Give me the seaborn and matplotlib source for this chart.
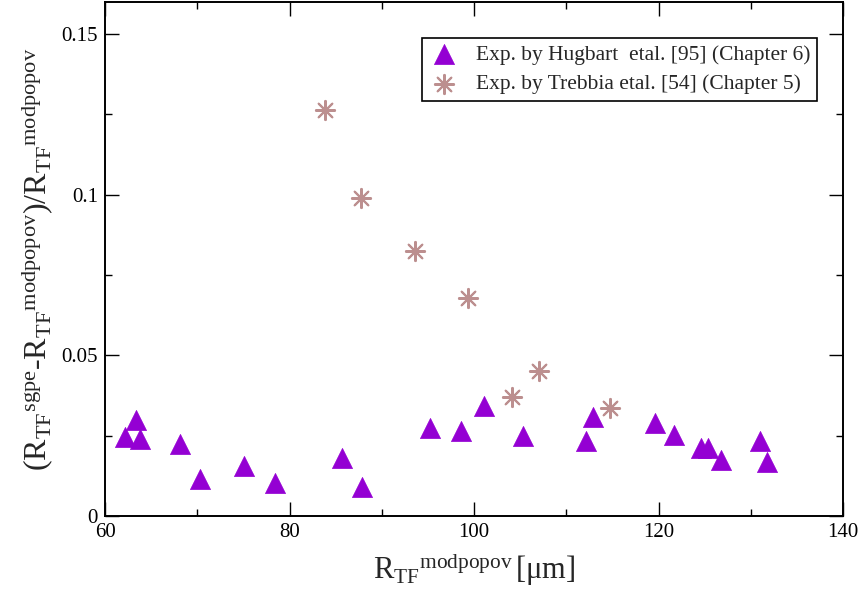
import matplotlib
matplotlib.use("Agg")
import matplotlib.pyplot as plt
import seaborn as sns
import pandas as pd
from matplotlib.ticker import MultipleLocator

# Hugbart et al. data (triangles)
hug_x = [62.2, 63.4, 63.8, 68.15, 70.3, 75.1, 78.4, 85.7, 87.9, 95.2, 98.6,
         101.1, 105.3, 112.1, 112.9, 119.6, 121.7, 124.6, 125.4, 126.8, 131.0, 131.8]
hug_y = [0.0246, 0.0299, 0.0240, 0.0225, 0.0114, 0.0157, 0.0102, 0.0180, 0.0091, 0.0275, 0.0265,
         0.0343, 0.0250, 0.0234, 0.0308, 0.0290, 0.0251, 0.0213, 0.0213, 0.0174, 0.0234, 0.0169]

# Trebbia et al. data (asterisks)
tre_x = [83.9, 87.8, 93.6, 99.3, 104.1, 107.0, 114.7]
tre_y = [0.1264, 0.0989, 0.0825, 0.0680, 0.0371, 0.0451, 0.0337]

x_ticks = [60, 80, 100, 120, 140]
x_ticklabels = ["60", "80", "100", "120", "140"]
y_ticks = [0, 0.05, 0.1, 0.15]
y_ticklabels = ["0", "0.05", "0.1", "0.15"]

lab_hug = "Exp. by Hugbart  etal. [95] (Chapter 6)"
lab_tre = "Exp. by Trebbia etal. [54] (Chapter 5)"

sns.set_style("ticks")
plt.rcParams['font.family'] = ['Liberation Serif', 'DejaVu Serif']
plt.rcParams['mathtext.fontset'] = 'custom'
plt.rcParams['mathtext.rm'] = 'Liberation Serif'
plt.rcParams['mathtext.it'] = 'Liberation Serif:italic'
plt.rcParams['mathtext.bf'] = 'Liberation Serif:bold'

fig = plt.figure(figsize=(8.58, 5.98), dpi=100)
ax = fig.add_axes([105/858, 1-516/598, 738/858, 514/598])

df_h = pd.DataFrame({"x": hug_x, "y": hug_y})
df_t = pd.DataFrame({"x": tre_x, "y": tre_y})

sns.scatterplot(data=df_h, x="x", y="y", ax=ax, marker="^", s=210, color="#9400d3",
                edgecolor="#9400d3", linewidth=0.5, label=lab_hug, zorder=3)
sns.scatterplot(data=df_t, x="x", y="y", ax=ax, marker=(8, 2, 0), s=190, color="#bc8f8f",
                linewidth=1.5, label=lab_tre, zorder=3)

ax.set_xlim(60, 140)
ax.set_ylim(0, 0.16)
ax.set_xticks(x_ticks)
ax.set_xticklabels(x_ticklabels)
ax.set_yticks(y_ticks)
ax.set_yticklabels(y_ticklabels)
ax.xaxis.set_minor_locator(MultipleLocator(10))
ax.yaxis.set_minor_locator(MultipleLocator(0.025))

ax.tick_params(which="both", direction="in", top=True, right=True, labelsize=15,
               width=1.0, color="black", labelcolor="black")
ax.tick_params(which="major", length=10)
ax.tick_params(which="minor", length=5)
ax.tick_params(axis="x", which="major", pad=5)
ax.tick_params(axis="y", which="major", pad=5)
for sp in ax.spines.values():
    sp.set_linewidth(1.4)
    sp.set_color("black")

ax.set_xlabel(r"$\mathrm{R_{TF}}{}^{\mathrm{modpopov}}\,\mathrm{[\mu m]}$", fontsize=22, labelpad=6)
ax.set_ylabel(r"$(\mathrm{R_{TF}}{}^{\mathrm{sgpe}}\mathrm{\text{-}R_{TF}}{}^{\mathrm{modpopov}})/\mathrm{R_{TF}}{}^{\mathrm{modpopov}}$",
              fontsize=23, labelpad=4)

leg = ax.legend(loc="upper right", bbox_to_anchor=((817-105)/738, (516-38)/514),
                borderaxespad=0, fontsize=15.5, frameon=True, fancybox=False,
                handletextpad=0.8, borderpad=0.3, labelspacing=0.45, handlelength=1.4)
leg.get_frame().set_edgecolor("black")
leg.get_frame().set_linewidth(1.2)
leg.get_frame().set_alpha(1)

fig.savefig("out.png", dpi=100)
